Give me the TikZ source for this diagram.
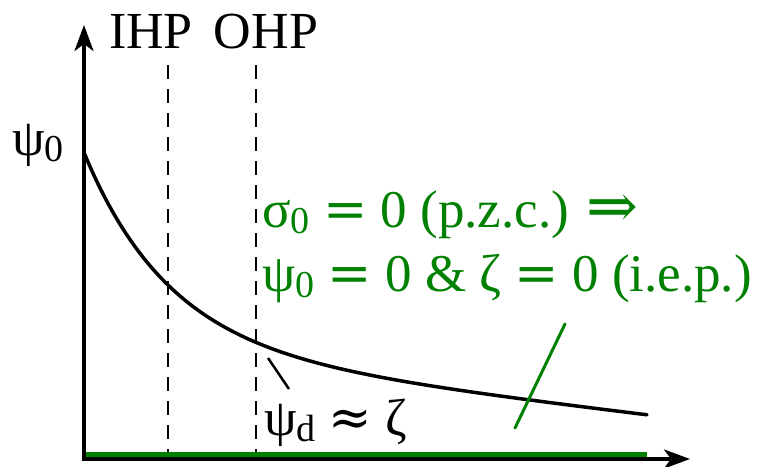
\documentclass[tikz,border=0pt]{standalone}
\usepackage{fontspec}
\setmainfont{Liberation Serif}
\newfontfamily\symbfont{DejaVu Serif}
\usetikzlibrary{arrows.meta}
\definecolor{pzcgreen}{RGB}{0,128,0}
\newcommand{\lowsub}[1]{\raisebox{-0.28ex}{\fontsize{38}{38}\selectfont #1}}
\newcommand{\eqsign}{{\symbfont =}}
\newcommand{\apxsign}{{\symbfont ≈}}
\newcommand{\implsign}{{\symbfont\fontsize{62}{62}\selectfont ⇒}}

\begin{document}
\begin{tikzpicture}[
    x=1pt, y=-1pt,
    axis/.style={line width=3.5pt, -{Stealth[length=26pt, width=19pt, inset=7pt]}},
    plane/.style={line width=2.8pt, dash pattern=on 14pt off 10pt},
    lbl/.style={font=\fontsize{52}{56}\selectfont, inner sep=0pt, anchor=base},
    note/.style={font=\fontsize{53}{58}\selectfont, text=pzcgreen, inner sep=0pt, anchor=base west},
    >=Stealth
]
\useasboundingbox (0,0) rectangle (773,466);

\coordinate (origin) at (84,459);
\coordinate (ytip)   at (84,25);
\coordinate (xtip)   at (690,459);
\coordinate (xend)   at (647,455);

\node[lbl] (ihp)  at (151,48) {IHP};
\node[lbl] (ohp)  at (266,48) {OHP};
\node[lbl, anchor=base west] (psizero) at (12,155) {ψ\lowsub{0}};
\node[lbl, anchor=base west] (psid) at (264,435) {ψ\lowsub{d} \apxsign{} ζ};
\node[note] (pzc) at (262,227) {σ\lowsub{0} \eqsign{} 0 (p.z.c.) \implsign};
\node[note] (iep) at (262,291) {ψ\lowsub{0} \eqsign{} 0 \& ζ \eqsign{} 0 (i.e.p.)};

% planes
\draw[plane] (168,65) -- (168,459);
\draw[plane] (256,65) -- (256,459);

% potential
\draw[line width=3.5pt, line cap=round] plot[domain=84:647, samples=120, smooth]
    ({\x}, {459 - (192.6*exp(-(\x-85)/85) + 111.4 - 0.12*(\x-85))});

% axes
\draw[line width=6.5pt, pzcgreen] ([yshift=4pt]origin) -- (xend);
\draw[axis] ([yshift=-1.75pt]origin) -- (ytip);
\draw[axis] ([xshift=-1.75pt]origin) -- (xtip);

% pointers
\coordinate (dtip) at (268,358);
\coordinate (dfoot) at (289,389);
\draw[line width=2.5pt] (dtip) -- (dfoot);
\coordinate (gtop) at (565,324);
\coordinate (gfoot) at (515,428);
\draw[line width=3pt, pzcgreen, line cap=round] (gfoot) -- (gtop);

\end{tikzpicture}
\end{document}
